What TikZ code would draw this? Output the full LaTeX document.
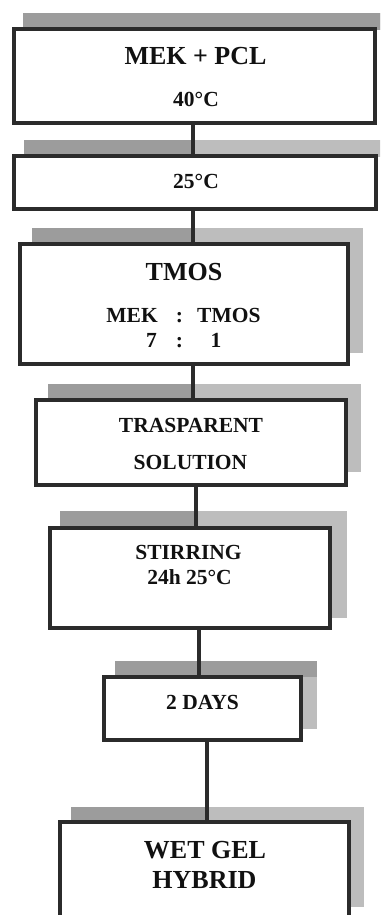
\documentclass[tikz,border=0pt]{standalone}
\usepackage{fontspec}
\setmainfont{Liberation Serif}
\definecolor{edge}{HTML}{2B2B2B}
\definecolor{shadedark}{HTML}{9C9C9C}
\definecolor{shadelight}{HTML}{BDBDBD}
\definecolor{ink}{HTML}{111111}
\tikzset{
  stepbox/.style={draw=edge, line width=4pt, fill=white, inner sep=0pt},
  link/.style={draw=edge, line width=4pt},
  big/.style={anchor=base, text=ink, inner sep=0pt, font=\fontsize{26}{28}\selectfont\bfseries},
  mid/.style={anchor=base, text=ink, inner sep=0pt, font=\fontsize{21.5}{24}\selectfont\bfseries},
}
% shadow behind a box: light block, dark strip on top up to the split
\newcommand{\dropshade}[6]{%
  \fill[shadelight] (#1,#2) rectangle (#3,#4);
  \fill[shadedark] (#1,#2) rectangle (#5,#6);
}
\begin{document}
\begin{tikzpicture}[x=1pt, y=-1pt]
\useasboundingbox (0,0) rectangle (380,915);
\clip (0,0) rectangle (380,915);
\fill[white] (0,0) rectangle (380,915);

% shadows (the two widest boxes only show their top strip)
\dropshade{23}{13}{390}{30}{390}{30}
\dropshade{24}{140}{390}{157}{193}{157}
\dropshade{32}{228}{363}{353}{193}{245}
\dropshade{48}{384}{361}{472}{193}{401}
\dropshade{60}{511}{347}{618}{196}{529}
\dropshade{115}{661}{317}{729}{317}{677}
\dropshade{71}{807}{364}{907}{207}{823}

% boxes
\node[stepbox, minimum width=361pt, minimum height=94pt] (b1) at (194.5,76) {};
\node[stepbox, minimum width=362pt, minimum height=53pt] (b2) at (195,182.5) {};
\node[stepbox, minimum width=328pt, minimum height=120pt] (b3) at (184,304) {};
\node[stepbox, minimum width=310pt, minimum height=85pt] (b4) at (191,442.5) {};
\node[stepbox, minimum width=280pt, minimum height=100pt] (b5) at (190,578) {};
\node[stepbox, minimum width=197pt, minimum height=63pt] (b6) at (202.5,708.5) {};
\node[stepbox, minimum width=289pt, minimum height=108pt] (b7) at (204.5,876) {};

% labels
\node[big] (t1) at (195.5,65) {MEK + PCL};
\node[mid] (t2) at (196,107) {40°C};
\node[mid] (t3) at (196,188) {25°C};
\node[big] (t4) at (184,280) {TMOS};
\node[mid, anchor=base east] (t5) at (158,322) {MEK};
\node[mid] (t6) at (179.5,322) {:};
\node[mid, anchor=base west] (t7) at (197,322) {TMOS};
\node[mid, anchor=base east] (t8) at (157,347) {7};
\node[mid] (t9) at (179.5,347) {:};
\node[mid] (t10) at (216,347) {1};
\node[mid] (t11) at (191,432) {TRASPARENT};
\node[mid] (t12) at (190.5,469) {SOLUTION};
\node[mid] (t13) at (188.5,559) {STIRRING};
\node[mid] (t14) at (189.5,584) {24h 25°C};
\node[mid] (t15) at (202.5,709) {2 DAYS};
\node[big] (t16) at (205,858) {WET GEL};
\node[big] (t17) at (204.5,888) {HYBRID};

% connector columns
\coordinate (k1) at (193,0);
\coordinate (k2) at (193,0);
\coordinate (k3) at (193,0);
\coordinate (k4) at (196,0);
\coordinate (k5) at (199,0);
\coordinate (k6) at (207,0);

\draw[link] (b1.south -| k1) -- (b2.north -| k1);
\draw[link] (b2.south -| k2) -- (b3.north -| k2);
\draw[link] (b3.south -| k3) -- (b4.north -| k3);
\draw[link] (b4.south -| k4) -- (b5.north -| k4);
\draw[link] (b5.south -| k5) -- (b6.north -| k5);
\draw[link] (b6.south -| k6) -- (b7.north -| k6);
\end{tikzpicture}
\end{document}
